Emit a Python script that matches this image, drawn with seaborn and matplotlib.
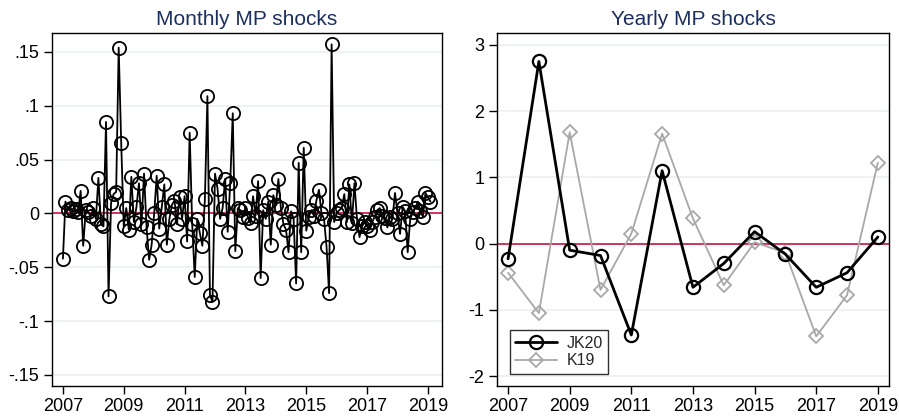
import numpy as np
import pandas as pd
import matplotlib
matplotlib.use("Agg")
import matplotlib.pyplot as plt
import seaborn as sns

# Monthly monetary policy shocks, 2007m1 onward
monthly_shock = [
    -0.042, 0.011, 0.003, 0.005, 0.002, 0.004, 0.001, 0.021, -0.030, 0.003, 0.001, -0.002,
    0.005, -0.005, 0.033, -0.010, -0.012, 0.085, -0.077, 0.010, 0.018, 0.020, 0.154, 0.065,
    -0.012, 0.005, -0.015, 0.034, -0.008, 0.006, 0.028, -0.010, 0.037, -0.013, -0.043, -0.029,
    0.000, 0.035, -0.014, 0.006, 0.027, -0.029, -0.005, 0.008, 0.012, -0.010, 0.015, -0.005,
    0.016, -0.026, 0.075, -0.010, -0.059, -0.005, -0.018, -0.030, 0.013, 0.109, -0.076, -0.082,
    0.037, 0.023, -0.005, 0.005, 0.032, -0.017, 0.028, 0.093, -0.035, 0.005, 0.003, -0.003,
    0.005, -0.004, -0.009, 0.016, -0.002, 0.030, -0.060, 0.003, -0.005, 0.011, -0.029, 0.017,
    0.008, 0.032, 0.005, -0.010, -0.015, -0.036, 0.002, -0.005, -0.065, 0.047, -0.036, 0.061,
    -0.016, -0.003, 0.003, -0.002, 0.012, 0.022, 0.000, -0.005, -0.031, -0.074, 0.157, -0.008,
    0.000, 0.003, 0.005, 0.018, -0.008, 0.027, -0.009, 0.028, -0.005, -0.022, -0.012, -0.008,
    -0.012, -0.015, -0.008, -0.003, 0.003, 0.005, -0.002, -0.004, -0.013, -0.003, -0.005, 0.019,
    0.000, -0.019, 0.006, 0.002, -0.036, -0.005, 0.001, 0.005, 0.011, 0.002, -0.003, 0.019,
    0.015, 0.011,
]
start_year = 2007

# Yearly shocks, two measures
years = list(range(2007, 2020))
jk20 = [-0.23, 2.75, -0.10, -0.18, -1.38, 1.10, -0.66, -0.30, 0.18, -0.16, -0.66, -0.44, 0.10]
k19 = [-0.44, -1.05, 1.68, -0.70, 0.15, 1.66, 0.38, -0.63, 0.02, -0.14, -1.40, -0.78, 1.22]

x_ticks = [2007, 2009, 2011, 2013, 2015, 2017, 2019]
left_yticks = [-0.15, -0.1, -0.05, 0, 0.05, 0.1, 0.15]
left_ylabels = ["-.15", "-.1", "-.05", "0", ".05", ".1", ".15"]
right_yticks = [-2, -1, 0, 1, 2, 3]

sns.set_theme(style="white")
plt.rcParams["font.family"] = ["Liberation Sans", "DejaVu Sans"]

TITLE_C = "#1c2f5e"
ZERO_C = "#cc1444"
GRID_C = "#edf2f3"

monthly = pd.DataFrame({
    "date": [start_year + i / 12 for i in range(len(monthly_shock))],
    "shock": monthly_shock,
})
yearly = pd.DataFrame({"year": years, "JK20": jk20, "K19": k19})

fig = plt.figure(figsize=(8.99, 4.19), dpi=100)
ax1 = fig.add_axes([0.0578, 0.0788, 0.4338, 0.8425])
ax2 = fig.add_axes([0.5528, 0.0788, 0.4360, 0.8425])


def style_axes(ax):
    for s in ax.spines.values():
        s.set_color("black")
        s.set_linewidth(1.0)
    ax.tick_params(axis="both", direction="out", length=6, width=1.0,
                   color="black", labelsize=13, labelcolor="black",
                   bottom=True, left=True, pad=3)
    ax.grid(axis="y", color=GRID_C, lw=1.4, zorder=0)
    ax.set_axisbelow(True)
    ax.set_xlabel("")
    ax.set_ylabel("")


# Monthly panel
ax1.axhline(0, color=ZERO_C, lw=1.2, zorder=1)
sns.lineplot(data=monthly, x="date", y="shock", ax=ax1, color="black", lw=1.3,
             marker="o", markersize=9.5, markerfacecolor="none",
             markeredgecolor="black", markeredgewidth=1.3, sort=False, zorder=3)
ax1.set_xlim(2006.64, 2019.46)
ax1.set_ylim(-0.1602, 0.1676)
ax1.set_xticks(x_ticks)
ax1.set_xticklabels([str(t) for t in x_ticks])
ax1.set_yticks(left_yticks)
ax1.set_yticklabels(left_ylabels)
style_axes(ax1)
ax1.set_title("Monthly MP shocks", color=TITLE_C, fontsize=15, pad=6)

# Yearly panel
ax2.axhline(0, color=ZERO_C, lw=1.2, zorder=1)
sns.lineplot(data=yearly, x="year", y="K19", ax=ax2, color="#a8a8a8", lw=1.3,
             marker="D", markersize=7, markerfacecolor="none",
             markeredgecolor="#a8a8a8", markeredgewidth=1.3, label="K19", zorder=2)
sns.lineplot(data=yearly, x="year", y="JK20", ax=ax2, color="black", lw=2.0,
             marker="o", markersize=9.5, markerfacecolor="none",
             markeredgecolor="black", markeredgewidth=1.6, label="JK20", zorder=3)
ax2.set_xlim(2006.64, 2019.36)
ax2.set_ylim(-2.15, 3.18)
ax2.set_xticks(x_ticks)
ax2.set_xticklabels([str(t) for t in x_ticks])
ax2.set_yticks(right_yticks)
ax2.set_yticklabels([str(t) for t in right_yticks])
style_axes(ax2)
ax2.set_title("Yearly MP shocks", color=TITLE_C, fontsize=15, pad=6)

handles, labels = ax2.get_legend_handles_labels()
order = [labels.index("JK20"), labels.index("K19")]
leg = ax2.legend([handles[i] for i in order], [labels[i] for i in order],
                 loc="lower left", bbox_to_anchor=(0.012, 0.012), frameon=True,
                 fancybox=False, edgecolor="black", fontsize=11.5,
                 handlelength=2.6, borderpad=0.35, labelspacing=0.15,
                 handletextpad=0.6)
leg.get_frame().set_linewidth(1.0)

fig.savefig("out.png", dpi=100, facecolor="white")
